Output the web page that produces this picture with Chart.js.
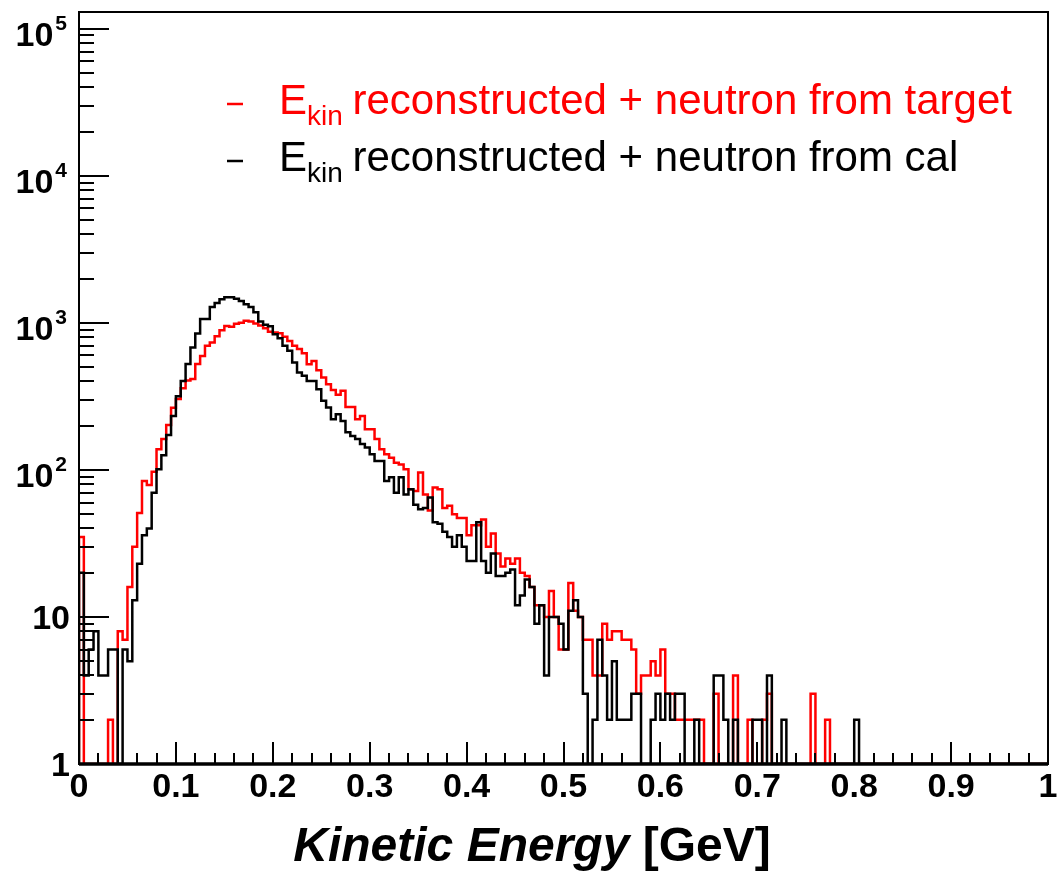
<!DOCTYPE html>
<html>
<head>
<meta charset="utf-8">
<title>Kinetic Energy</title>
<script src="https://cdn.jsdelivr.net/npm/chart.js@4/dist/chart.umd.min.js"></script>
<style>
  html, body { margin: 0; padding: 0; background: #fff; }
  #wrap { width: 1061px; height: 872px; }
</style>
</head>
<body>
<div id="wrap"><canvas id="chart" width="1061" height="872"></canvas></div>
<script>
// histogram: 200 bins of 0.005 GeV from 0 to 1
const binWidth = 0.005;

// E_kin reconstructed + neutron from target
const redCounts = [
  35, 0, 0, 0, 0, 0, 2, 0, 8, 7,
  16, 30, 51, 84, 79, 97, 138, 162, 202, 265,
  303, 359, 405, 415, 525, 595, 698, 734, 812, 890,
  953, 940, 985, 1000, 1032, 1020, 990, 960, 920, 870,
  860, 850, 804, 754, 698, 663, 622, 524, 551, 477,
  425, 383, 349, 324, 345, 268, 268, 221, 233, 189,
  189, 162, 138, 128, 121, 112, 109, 101, 74, 72,
  96, 68, 53, 76, 74, 55, 57, 50, 47, 47,
  36, 42, 42, 46, 30, 37, 27, 22, 25, 23,
  25, 20, 19, 16, 12, 12, 10, 15, 10, 6,
  6, 17, 11, 10, 7, 7, 4, 4, 9, 7,
  8, 8, 7, 7, 6, 3, 4, 4, 5, 4,
  6, 3, 3, 2, 2, 2, 2, 2, 2, 0,
  0, 3, 0, 0, 0, 4, 0, 0, 2, 0,
  0, 2, 3, 0, 0, 0, 0, 0, 0, 0,
  0, 3, 0, 0, 2, 0, 0, 0, 0, 0,
  0, 0, 0, 0, 0, 0, 0, 0, 0, 0,
  0, 0, 0, 0, 0, 0, 0, 0, 0, 0,
  0, 0, 0, 0, 0, 0, 0, 0, 0, 0,
  0, 0, 0, 0, 0, 0, 0, 0, 0, 0
];

// E_kin reconstructed + neutron from cal
const blackCounts = [
  20, 4, 6, 8, 4, 4, 6, 6, 0, 6,
  5, 13, 23, 36, 40, 70, 101, 126, 173, 233,
  317, 402, 525, 681, 847, 1062, 1062, 1283, 1367, 1445,
  1496, 1496, 1460, 1410, 1340, 1280, 1180, 1020, 970, 950,
  838, 787, 698, 645, 537, 459, 436, 403, 403, 354,
  295, 266, 221, 239, 215, 180, 170, 162, 150, 142,
  128, 115, 115, 84, 89, 70, 89, 68, 74, 58,
  54, 55, 65, 44, 43, 38, 35, 30, 36, 30,
  24, 24, 44, 24, 20, 27, 19, 19, 20, 21,
  12, 14, 18, 16, 9, 12, 4, 10, 10, 9,
  6, 11, 13, 10, 3, 0, 2, 7, 4, 2,
  5, 2, 2, 2, 3, 3, 0, 0, 2, 3,
  2, 3, 2, 3, 3, 0, 0, 2, 0, 0,
  0, 4, 4, 2, 0, 2, 0, 0, 0, 2,
  2, 0, 4, 0, 0, 2, 0, 0, 0, 0,
  0, 0, 0, 0, 0, 0, 0, 0, 0, 0,
  2, 0, 0, 0, 0, 0, 0, 0, 0, 0,
  0, 0, 0, 0, 0, 0, 0, 0, 0, 0,
  0, 0, 0, 0, 0, 0, 0, 0, 0, 0,
  0, 0, 0, 0, 0, 0, 0, 0, 0, 0
];

const xTicks = [0, 0.1, 0.2, 0.3, 0.4, 0.5, 0.6, 0.7, 0.8, 0.9, 1];
const xTickLabels = ['0', '0.1', '0.2', '0.3', '0.4', '0.5', '0.6', '0.7', '0.8', '0.9', '1'];
const yDecades = [1, 10, 100, 1000, 10000, 100000];
const yTickBase = ['1', '10', '10', '10', '10', '10'];
const yTickExp = ['', '', '2', '3', '4', '5'];

const legendLabels = ['reconstructed + neutron from target', 'reconstructed + neutron from cal'];
const legendColors = ['#ff0000', '#000000'];

const yMin = 1;
const yMax = 1.3e5;
const FONT = '"Liberation Sans", Arial, Helvetica, sans-serif';

// empty bins sit on the bottom of the log axis, like ROOT does
function toPoints(counts) {
  const pts = [{ x: 0, y: yMin }];
  counts.forEach((c, i) => pts.push({ x: i * binWidth, y: Math.max(c, yMin) }));
  pts.push({ x: counts.length * binWidth, y: yMin });
  return pts;
}

const rootStyle = {
  id: 'rootStyle',
  afterDatasetsDraw(chart) {
    const { ctx, chartArea: a, scales: { x, y } } = chart;
    ctx.save();
    ctx.strokeStyle = '#000';
    ctx.lineWidth = 2;

    // ticks, drawn inside the frame
    ctx.beginPath();
    for (let i = 0; i <= 50; i++) {
      const px = Math.round(x.getPixelForValue(i * 0.02));
      const len = i % 5 === 0 ? 22 : 11;
      ctx.moveTo(px, a.bottom);
      ctx.lineTo(px, a.bottom - len);
    }
    yDecades.forEach(d => {
      for (let k = 1; k <= 9; k++) {
        const v = k * d;
        if (v > yMax) break;
        const py = Math.round(y.getPixelForValue(v));
        ctx.moveTo(a.left, py);
        ctx.lineTo(a.left + (k === 1 ? 30 : 15), py);
      }
    });
    ctx.stroke();
    ctx.strokeRect(a.left, a.top, a.right - a.left, a.bottom - a.top);
    // heavier bottom axis so empty bins hide under it
    ctx.lineWidth = 3.5;
    ctx.beginPath();
    ctx.moveTo(a.left, a.bottom);
    ctx.lineTo(a.right, a.bottom);
    ctx.stroke();

    // x tick labels
    ctx.fillStyle = '#000';
    ctx.font = 'bold 34px ' + FONT;
    ctx.textAlign = 'center';
    ctx.textBaseline = 'alphabetic';
    xTicks.forEach((t, i) => {
      ctx.fillText(xTickLabels[i], x.getPixelForValue(t), a.bottom + 33);
    });

    // y tick labels, powers of ten with raised exponent
    yDecades.forEach((d, i) => {
      const py = y.getPixelForValue(d);
      if (!yTickExp[i]) {
        ctx.font = 'bold 34px ' + FONT;
        ctx.textAlign = 'right';
        ctx.fillText(yTickBase[i], a.left - 9, py + 12);
      } else {
        ctx.font = 'bold 21px ' + FONT;
        const ew = ctx.measureText(yTickExp[i]).width;
        ctx.textAlign = 'left';
        ctx.fillText(yTickExp[i], a.left - 12 - ew, py + 1);
        ctx.font = 'bold 34px ' + FONT;
        ctx.textAlign = 'right';
        ctx.fillText(yTickBase[i], a.left - 14 - ew, py + 17);
      }
    });

    // x axis title: italic name + unit
    const t1 = 'Kinetic Energy';
    const t2 = ' [GeV]';
    ctx.font = 'italic bold 48px ' + FONT;
    const w1 = ctx.measureText(t1).width;
    ctx.font = 'bold 48px ' + FONT;
    const w2 = ctx.measureText(t2).width;
    const startX = 532 - (w1 + w2) / 2;
    ctx.textAlign = 'left';
    ctx.font = 'italic bold 48px ' + FONT;
    ctx.fillText(t1, startX, 861);
    ctx.font = 'bold 48px ' + FONT;
    ctx.fillText(t2, startX + w1, 861);

    // legend
    legendLabels.forEach((label, i) => {
      const base = 114 + i * 57;
      ctx.strokeStyle = legendColors[i];
      ctx.fillStyle = legendColors[i];
      ctx.lineWidth = 2.5;
      ctx.beginPath();
      ctx.moveTo(227, base - 10);
      ctx.lineTo(243, base - 10);
      ctx.stroke();
      ctx.textAlign = 'left';
      ctx.font = '42px ' + FONT;
      ctx.fillText('E', 279, base);
      let cx = 279 + ctx.measureText('E').width;
      ctx.font = '28px ' + FONT;
      ctx.fillText('kin', cx, base + 11);
      cx += ctx.measureText('kin').width;
      ctx.font = '42px ' + FONT;
      ctx.fillText(' ' + label, cx - 2, base);
    });
    ctx.restore();
  }
};

new Chart(document.getElementById('chart'), {
  type: 'line',
  data: {
    datasets: [
      {
        label: 'E_kin reconstructed + neutron from target',
        data: toPoints(redCounts),
        borderColor: '#ff0000',
        borderWidth: 2.5,
        stepped: true,
        pointRadius: 0,
        fill: false,
        order: 2
      },
      {
        label: 'E_kin reconstructed + neutron from cal',
        data: toPoints(blackCounts),
        borderColor: '#000000',
        borderWidth: 2.5,
        stepped: true,
        pointRadius: 0,
        fill: false,
        order: 1
      }
    ]
  },
  options: {
    responsive: false,
    animation: false,
    layout: { padding: { top: 12, right: 13, left: 0, bottom: 0 } },
    plugins: { legend: { display: false }, tooltip: { enabled: false } },
    scales: {
      x: {
        type: 'linear',
        min: 0,
        max: 1,
        grid: { display: false },
        border: { display: false },
        ticks: { display: false },
        afterFit: s => { s.height = 108; }
      },
      y: {
        type: 'logarithmic',
        min: yMin,
        max: yMax,
        grid: { display: false },
        border: { display: false },
        ticks: { display: false },
        afterFit: s => { s.width = 79; }
      }
    }
  },
  plugins: [rootStyle]
});
</script>
</body>
</html>
